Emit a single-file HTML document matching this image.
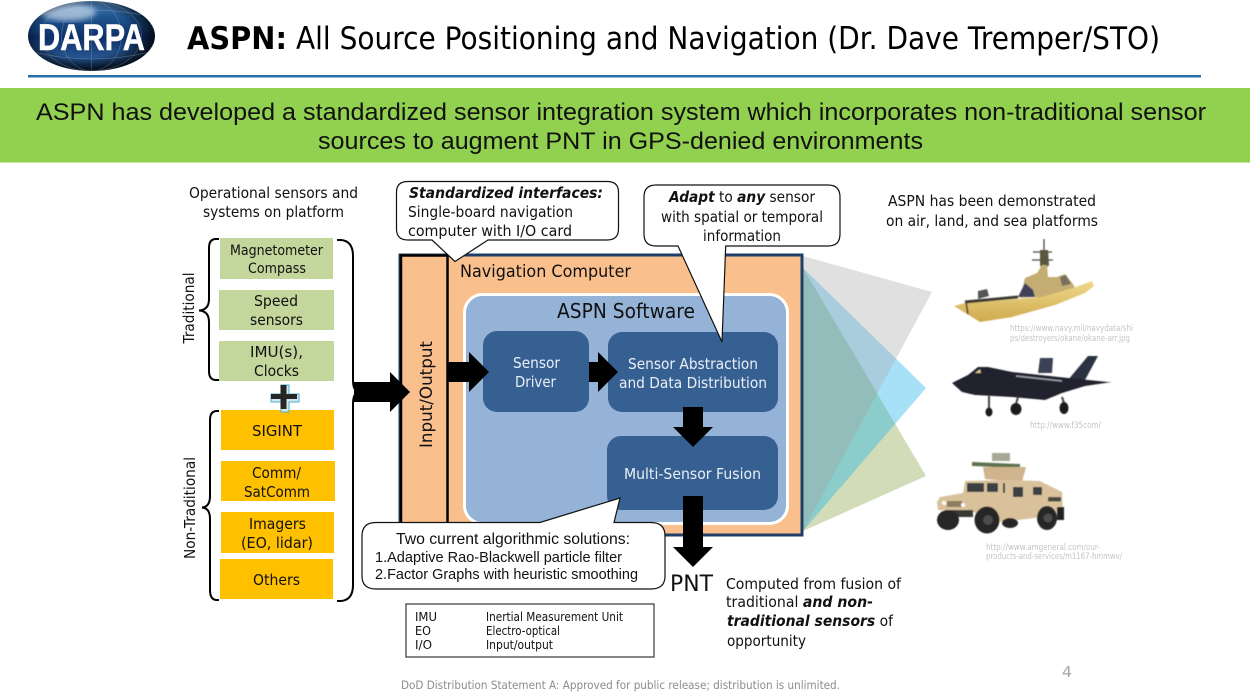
<!DOCTYPE html>
<html><head><meta charset="utf-8"><style>
html,body{margin:0;padding:0;background:#fff;width:1250px;height:694px;overflow:hidden}
svg{display:block}
text{font-family:"DejaVu Sans",sans-serif;fill:#111}
.a{font-family:"Liberation Sans",sans-serif}
.w{fill:#e9eff6}
.c{fill:#c4c4c4;font-size:8.5px}
</style></head><body>
<svg width="1250" height="694" viewBox="0 0 1250 694" xmlns="http://www.w3.org/2000/svg">
<defs>
<linearGradient id="g" x1="0" y1="0" x2="0" y2="1"><stop offset="0" stop-color="#4f7fb4"/><stop offset=".22" stop-color="#1f5590"/><stop offset=".52" stop-color="#0e2f68"/><stop offset=".8" stop-color="#25558f"/><stop offset="1" stop-color="#10305f"/></linearGradient>
<radialGradient id="edge" cx="45%" cy="45%" r="55%"><stop offset=".65" stop-color="#000" stop-opacity="0"/><stop offset="1" stop-color="#000" stop-opacity=".75"/></radialGradient>
<filter id="b"><feGaussianBlur stdDeviation=".5"/></filter>
<filter id="b2"><feGaussianBlur stdDeviation="3"/></filter>
<linearGradient id="hull" x1="0" y1="0" x2="0" y2="1"><stop offset="0" stop-color="#efd98a"/><stop offset="1" stop-color="#cfa94f"/></linearGradient>
<clipPath id="cg"><polygon points="803,256 932,292 803,531"/></clipPath>
<clipPath id="cb"><polygon points="803,268 926,388 803,531"/></clipPath>
<clipPath id="cn"><polygon points="803,268 926,476 803,531"/></clipPath>
<clipPath id="ce"><ellipse cx="91.500" cy="36" rx="63.500" ry="35"/></clipPath>
</defs>

<!-- Logo -->
<ellipse cx="91.500" cy="36" rx="63.500" ry="35" fill="url(#g)"/>
<g clip-path="url(#ce)">
<ellipse cx="68" cy="12" rx="28" ry="9" fill="#c3d6ea" opacity=".75" filter="url(#b2)"/>
<ellipse cx="91.500" cy="36" rx="63.500" ry="35" fill="url(#edge)"/>
<g fill="none" stroke="#9fb6d4" stroke-width=".5" opacity=".55">
<ellipse cx="91.500" cy="36" rx="30" ry="35"/><ellipse cx="91.500" cy="36" rx="50" ry="35"/><path d="M40 15Q92 5 143 15M33 52Q92 66 150 52M91.500 1V70"/>
</g>
</g>
<text x="38" y="50" class="a" font-size="37" font-weight="bold" style="fill:#fff;stroke:#fff;stroke-width:.5" textLength="107" lengthAdjust="spacingAndGlyphs">DARPA</text>

<text x="187" y="49" font-size="31" font-weight="bold" style="fill:#000" textLength="100" lengthAdjust="spacingAndGlyphs">ASPN:</text>
<text x="296" y="49" font-size="31" style="fill:#000" textLength="864" lengthAdjust="spacingAndGlyphs">All Source Positioning and Navigation (Dr. Dave Tremper/STO)</text>
<rect x="28" y="75" width="1173" height="2.500" fill="#2a6fa8"/>

<rect x="0" y="88" width="1250" height="74.500" fill="#92d050"/>
<text x="36" y="120" class="a" font-size="24" textLength="1170" lengthAdjust="spacingAndGlyphs">ASPN has developed a standardized sensor integration system which incorporates non-traditional sensor</text>
<text x="318" y="149" class="a" font-size="24" textLength="605" lengthAdjust="spacingAndGlyphs">sources to augment PNT in GPS-denied environments</text>

<text x="189" y="198" font-size="14.700" textLength="169" lengthAdjust="spacingAndGlyphs">Operational sensors and</text>
<text x="203" y="217" font-size="14.700" textLength="141" lengthAdjust="spacingAndGlyphs">systems on platform</text>

<!-- Sensor boxes -->
<g fill="#c3d69b">
<rect x="220" y="238" width="113" height="41"/><rect x="219" y="290" width="115" height="40"/><rect x="219" y="341" width="115" height="40"/>
</g>
<g fill="#ffc000">
<rect x="221" y="410" width="113" height="40"/><rect x="221" y="461" width="114" height="40"/><rect x="221" y="512" width="113" height="41"/><rect x="220" y="559" width="113" height="40"/>
</g>
<text x="230" y="255" font-size="14" textLength="93" lengthAdjust="spacingAndGlyphs">Magnetometer</text>
<text x="248" y="273" font-size="14" textLength="58" lengthAdjust="spacingAndGlyphs">Compass</text>
<text x="254" y="306" font-size="14.700" textLength="44" lengthAdjust="spacingAndGlyphs">Speed</text>
<text x="250" y="325" font-size="14.700" textLength="53" lengthAdjust="spacingAndGlyphs">sensors</text>
<text x="250" y="357" font-size="14.700" textLength="53" lengthAdjust="spacingAndGlyphs">IMU(s),</text>
<text x="254" y="376" font-size="14.700" textLength="45" lengthAdjust="spacingAndGlyphs">Clocks</text>
<text x="252" y="436" font-size="14.700" textLength="50" lengthAdjust="spacingAndGlyphs">SIGINT</text>
<text x="252" y="478" font-size="14.700" textLength="49" lengthAdjust="spacingAndGlyphs">Comm/</text>
<text x="244" y="497" font-size="14.700" textLength="66" lengthAdjust="spacingAndGlyphs">SatComm</text>
<text x="249" y="529" font-size="14.700" textLength="57" lengthAdjust="spacingAndGlyphs">Imagers</text>
<text x="241" y="548" font-size="14.700" textLength="72" lengthAdjust="spacingAndGlyphs">(EO, lidar)</text>
<text x="253" y="585" font-size="14.700" textLength="47" lengthAdjust="spacingAndGlyphs">Others</text>

<!-- Braces -->
<g fill="none" stroke="#000" stroke-width="2">
<path d="M219 239H216Q209 239 209 248V299Q209 310 199 310.500Q209 311 209 322V371Q209 380 216 380H219"/>
<path d="M219 411H217Q210 411 210 420V496Q210 507 202 507.500Q210 508 210 519V590Q210 600 217 600H219"/>
<path d="M337 240H341Q353 241 353 256V380Q353 392 360 392Q353 392 353 404V585Q353 600 341 601H337"/>
</g>
<text transform="translate(194,343.500) rotate(-90)" font-size="14.700" textLength="71" lengthAdjust="spacingAndGlyphs">Traditional</text>
<text transform="translate(195,559) rotate(-90)" font-size="14.700" textLength="102" lengthAdjust="spacingAndGlyphs">Non-Traditional</text>

<!-- Plus -->
<path d="M281 385H289V394H299V402H289V412H281V402H271V394H281Z" fill="#cfe8f2" stroke="#4eaecb" stroke-width="1"/>
<path d="M280.500 385H286.500V394H297V399H286.500V409H280.500V399H271V394H280.500Z" fill="#262626"/>

<!-- Triangles -->
<polygon points="803,256 932,292 803,531" fill="#e0e0e0"/>
<polygon points="803,268 926,388 803,531" fill="#a7e1f7"/>
<polygon points="803,268 926,476 803,531" fill="#d3dcb9"/>
<g clip-path="url(#cb)"><polygon points="803,256 932,292 803,531" fill="#a9cddd"/></g>
<g clip-path="url(#cb)"><polygon points="803,268 926,476 803,531" fill="#8bcdcb"/></g>
<g clip-path="url(#cg)"><g clip-path="url(#cb)"><polygon points="803,268 926,476 803,531" fill="#92bdbb"/></g></g>

<!-- Navigation computer -->
<rect x="400" y="255" width="402" height="280" fill="#f9c08e" stroke="#1f3f66" stroke-width="3"/>
<rect x="401" y="255.500" width="46.500" height="275" fill="#f9c08e" stroke="#000" stroke-width="2.500"/>
<text x="460" y="277" font-size="17" textLength="171" lengthAdjust="spacingAndGlyphs">Navigation Computer</text>
<text transform="translate(432,448) rotate(-90)" font-size="17" textLength="107" lengthAdjust="spacingAndGlyphs">Input/Output</text>
<rect x="464.500" y="294.500" width="323" height="229" rx="18" fill="#95b3d7" stroke="#fff" stroke-width="3"/>
<text x="557" y="318" font-size="20" textLength="138" lengthAdjust="spacingAndGlyphs">ASPN Software</text>

<rect x="483" y="331" width="106" height="81" rx="14" fill="#376092"/>
<rect x="608" y="332" width="170" height="80" rx="14" fill="#376092"/>
<rect x="607" y="436" width="171" height="74" rx="14" fill="#376092"/>
<text x="513" y="368" font-size="14.700" class="w" textLength="47" lengthAdjust="spacingAndGlyphs">Sensor</text>
<text x="515" y="387" font-size="14.700" class="w" textLength="41" lengthAdjust="spacingAndGlyphs">Driver</text>
<text x="628" y="369" font-size="14.700" class="w" textLength="130" lengthAdjust="spacingAndGlyphs">Sensor Abstraction</text>
<text x="619" y="388" font-size="14.700" class="w" textLength="148" lengthAdjust="spacingAndGlyphs">and Data Distribution</text>
<text x="624" y="479" font-size="14.700" class="w" textLength="137" lengthAdjust="spacingAndGlyphs">Multi-Sensor Fusion</text>

<!-- Arrows -->
<g fill="#000">
<polygon points="354,382 390,382 390,372 410,392 390,412 390,402 354,402"/>
<polygon points="447,362 469,362 469,352 489,372 469,392 469,382 447,382"/>
<polygon points="589,362 598,362 598,352 618,372 598,392 598,382 589,382"/>
<polygon points="683,407 703,407 703,427 713,427 693,447 673,427 683,427"/>
<polygon points="683,496 703,496 703,547 713,547 693,567 673,547 683,547"/>
</g>

<!-- Callouts -->
<g fill="#fff" stroke="#111" stroke-width="1.200">
<path d="M408 181.500H607Q618.500 181.500 618.500 192V229Q618.500 240 607 240H488L455 261.500L432 240H408Q396.500 240 396.500 229V192Q396.500 181.500 408 181.500Z"/>
<path d="M656 185H828Q840 185 840 197V234Q840 246 828 246H725.700L722 342L678 246H656Q644 246 644 234V197Q644 185 656 185Z"/>
<path d="M376 522.500H540L620 498L614 522.500H651Q665 522.500 665 536V576Q665 589 651 589H376Q362 589 362 576V536Q362 522.500 376 522.500Z"/>
</g>
<text x="409" y="198" font-size="14.700" font-weight="bold" font-style="italic" textLength="194" lengthAdjust="spacingAndGlyphs">Standardized interfaces:</text>
<text x="408" y="217" font-size="14.700" textLength="165" lengthAdjust="spacingAndGlyphs">Single-board navigation</text>
<text x="408" y="236" font-size="14.700" textLength="164" lengthAdjust="spacingAndGlyphs">computer with I/O card</text>
<text x="669" y="202" font-size="14.700" textLength="146" lengthAdjust="spacingAndGlyphs"><tspan font-weight="bold" font-style="italic">Adapt</tspan> to <tspan font-weight="bold" font-style="italic">any</tspan> sensor</text>
<text x="661" y="222" font-size="14.700" textLength="162" lengthAdjust="spacingAndGlyphs">with spatial or temporal</text>
<text x="703" y="241" font-size="14.700" textLength="78" lengthAdjust="spacingAndGlyphs">information</text>
<text x="396" y="544" class="a" font-size="15.500" textLength="234" lengthAdjust="spacingAndGlyphs">Two current algorithmic solutions:</text>
<text x="375" y="562" class="a" font-size="14.500" textLength="247" lengthAdjust="spacingAndGlyphs">1.Adaptive Rao-Blackwell particle filter</text>
<text x="375" y="579" class="a" font-size="14.500" textLength="263" lengthAdjust="spacingAndGlyphs">2.Factor Graphs with heuristic smoothing</text>

<!-- Legend -->
<rect x="406" y="604" width="248" height="53" fill="#fff" stroke="#444" stroke-width="1.300"/>
<text x="415" y="621" font-size="12" textLength="22" lengthAdjust="spacingAndGlyphs">IMU</text>
<text x="415" y="635" font-size="12" textLength="16" lengthAdjust="spacingAndGlyphs">EO</text>
<text x="415" y="649" font-size="12" textLength="17" lengthAdjust="spacingAndGlyphs">I/O</text>
<text x="486" y="621" font-size="12" textLength="137" lengthAdjust="spacingAndGlyphs">Inertial Measurement Unit</text>
<text x="486" y="635" font-size="12" textLength="74" lengthAdjust="spacingAndGlyphs">Electro-optical</text>
<text x="486" y="649" font-size="12" textLength="67" lengthAdjust="spacingAndGlyphs">Input/output</text>

<text x="670" y="591" font-size="22" textLength="43" lengthAdjust="spacingAndGlyphs">PNT</text>
<text x="726" y="589" font-size="14.700" textLength="175" lengthAdjust="spacingAndGlyphs">Computed from fusion of</text>
<text x="726" y="607" font-size="14.700" textLength="147" lengthAdjust="spacingAndGlyphs">traditional <tspan font-weight="bold" font-style="italic">and non-</tspan></text>
<text x="727" y="626" font-size="14.700" textLength="166" lengthAdjust="spacingAndGlyphs"><tspan font-weight="bold" font-style="italic">traditional sensors</tspan> of</text>
<text x="727" y="646" font-size="14.700" textLength="79" lengthAdjust="spacingAndGlyphs">opportunity</text>

<text x="888" y="206" font-size="14.700" textLength="208" lengthAdjust="spacingAndGlyphs">ASPN has been demonstrated</text>
<text x="886" y="226" font-size="14.700" textLength="212" lengthAdjust="spacingAndGlyphs">on air, land, and sea platforms</text>

<!-- Ship -->
<g filter="url(#b)">
<path d="M1044 239V268M1033 252H1052M1032 260H1053" stroke="#4a4a42" stroke-width="1.300" fill="none"/>
<polygon points="1040,250 1048,250 1049,265 1043,272 1040,265" fill="#5b5640"/>
<polygon points="1025,278 1037,273 1042,265 1047,265 1048,277 1057,277 1065,274 1073,284 1076,290 1045,299 1035,297 1020,298" fill="#c4ad72"/>
<polygon points="1018,297 1025,283 1033,290 1035,297" fill="#3f4358"/>
<polygon points="1060,277 1066,275 1071,284 1062,286" fill="#77705a"/>
<polygon points="954,306 980,322 1012,317 1055,305 1085,293 1094,286 1092,281 1073,288 1042,297 1005,300 965,303" fill="url(#hull)"/>
<path d="M965 302L1018 297" stroke="#3d3a30" stroke-width="3" fill="none"/>
<polygon points="978,291 987,289 989,296 978,299" fill="#555"/>
<path d="M966 302L968 314" stroke="#333" stroke-width="1.500"/>
</g>

<!-- Plane -->
<g filter="url(#b)">
<polygon points="1040,358 1053,358 1052,373 1038,373" fill="#3a4356"/>
<polygon points="1068,380 1088,356 1098,356 1085,380" fill="#2c3342"/>
<polygon points="952,383 968,375 978,367 988,367 1012,372 1068,378 1108,382 1112,382 1085,386 1062,393 1045,400 1012,397 975,395 962,392" fill="#20242e"/>
<path d="M1016 376L1062 381" stroke="#9aa0ac" stroke-width="1.500" fill="none"/>
<polygon points="975,373 980,369 981,373" fill="#d6c58d"/>
<g stroke="#444" stroke-width="2" fill="none"><path d="M989 396V408M1018 397L1016 404M1062 397L1064 403"/></g>
<g fill="#1b1b1d"><ellipse cx="989" cy="412" rx="3.500" ry="4.500"/><ellipse cx="1016" cy="409" rx="5.500" ry="6"/><ellipse cx="1064" cy="408" rx="4.500" ry="6"/></g>
</g>

<!-- Humvee -->
<g filter="url(#b)">
<rect x="992" y="453" width="18" height="8" fill="#a8a898"/>
<polygon points="972,462 1020,464 1020,468 972,466" fill="#5f7350"/>
<polygon points="983,467 1026,467 1022,482 985,479" fill="#cfb48e"/>
<polygon points="937,502 940,497 963,493 965,481 1003,480 1040,481 1062,492 1063,510 1043,517 1000,522 973,512 938,510" fill="#d9c19c"/>
<g fill="#3a3f42"><rect x="967" y="483" width="17" height="9"/><rect x="987" y="483" width="11" height="9"/><rect x="1003" y="483" width="2" height="10"/><rect x="1013" y="487" width="10" height="10"/><rect x="1033" y="487" width="9" height="8"/></g>
<rect x="1048" y="497" width="13" height="4.500" fill="#4a4a40"/>
<rect x="947" y="501" width="15" height="6" fill="#8f7d60"/>
<rect x="1057" y="507" width="7" height="13" fill="#222"/>
<circle cx="944" cy="503" r="2" fill="#fff"/><circle cx="963" cy="505" r="2" fill="#fff"/>
<rect x="945" y="510" width="28" height="7" fill="#3a3a35"/>
<g fill="#262725"><ellipse cx="948" cy="520" rx="11" ry="10"/><ellipse cx="987" cy="520" rx="12.500" ry="13.500"/><ellipse cx="1047" cy="518" rx="10" ry="12"/><ellipse cx="1010" cy="523" rx="8" ry="5"/></g>
<g fill="#4c4d49"><circle cx="988" cy="520" r="5"/><circle cx="1048" cy="518" r="4.500"/></g>
</g>

<text x="1010" y="331" class="c" textLength="123" lengthAdjust="spacingAndGlyphs">https://www.navy.mil/navydata/shi</text>
<text x="1010" y="341" class="c" textLength="120" lengthAdjust="spacingAndGlyphs">ps/destroyers/okane/okane-arr.jpg</text>
<text x="1030" y="428" class="c" textLength="71" lengthAdjust="spacingAndGlyphs">http://www.f35com/</text>
<text x="986" y="550" class="c" textLength="114" lengthAdjust="spacingAndGlyphs">http://www.amgeneral.com/our-</text>
<text x="986" y="559" class="c" textLength="136" lengthAdjust="spacingAndGlyphs">products-and-services/m1167-hmmwv/</text>

<text x="1062" y="677" font-size="15" style="fill:#a6a6a6" textLength="10" lengthAdjust="spacingAndGlyphs">4</text>
<text x="401" y="689" font-size="11.500" style="fill:#8c8c8c" textLength="439" lengthAdjust="spacingAndGlyphs">DoD Distribution Statement A: Approved for public release; distribution is unlimited.</text>
</svg>
</body></html>
